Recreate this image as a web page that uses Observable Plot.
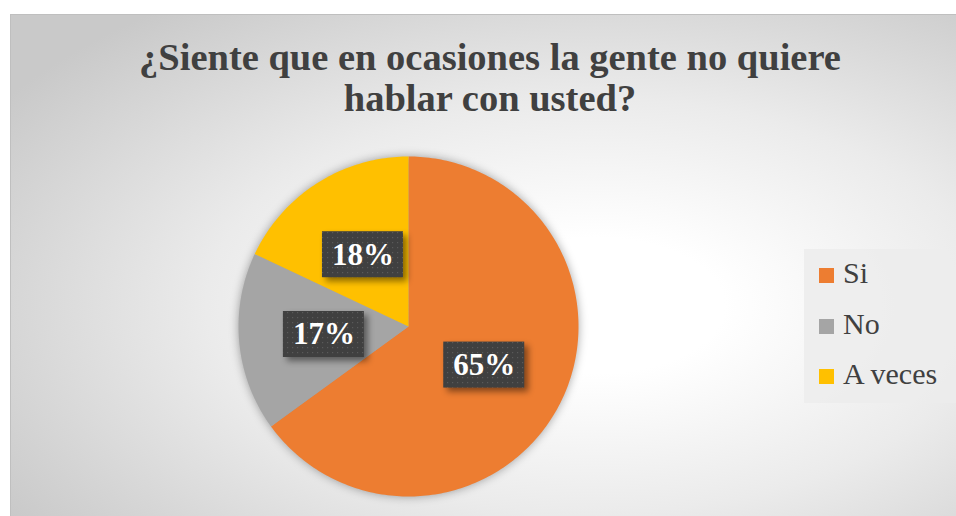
<!DOCTYPE html>
<html>
<head>
<meta charset="utf-8">
<script src="https://cdn.jsdelivr.net/npm/d3@7"></script>
<script src="https://cdn.jsdelivr.net/npm/@observablehq/plot@0.6"></script>
<style>
  body { margin:0; width:956px; height:516px; overflow:hidden; background:#fff; position:relative; font-family:"Liberation Serif","Times New Roman",serif; }
  #chart { position:absolute; left:10px; top:14px; width:946px; height:502px; box-sizing:border-box;
    border-left:1px solid #bfbfbf; border-top:1px solid #bfbfbf;
    background: radial-gradient(ellipse 75% 75% at 62% 58%, #ffffff 0%, #ffffff 18%, #ebebeb 55%, #c9c9c9 100%); }
  #title { position:absolute; left:0; top:37px; width:980px; text-align:center; font-weight:bold; font-size:38.5px; line-height:41px; color:#404040; }
  #plot { position:absolute; left:0; top:130px; }
  #legend { position:absolute; left:804px; top:249px; width:152px; height:154px; background:rgba(236,236,236,0.85); }
  .item { position:absolute; left:15px; height:20px; }
  .sw { position:absolute; left:0; top:0; width:15px; height:15px; }
  .lab { position:absolute; left:24px; top:-12px; font-size:30px; line-height:34px; color:#404040; white-space:nowrap; }
</style>
</head>
<body>
<div id="chart"></div>
<div id="title">¿Siente que en ocasiones la gente no quiere<br>hablar con usted?</div>
<div id="plot"></div>
<div id="legend"></div>
<script>
const categories = ["Si", "No", "A veces"];
const values = [65, 17, 18];
const labels = ["65%", "17%", "18%"];
const colors = ["#ED7D31", "#A5A5A5", "#FFC000"];

const data = categories.map((name, i) => ({name, value: values[i], label: labels[i]}));
const arcs = d3.pie().sort(null).value(d => d.value)(data);

// wedge outlines in unit coordinates (angle 0 at top, clockwise)
const wedgePts = [];
arcs.forEach(a => {
  wedgePts.push({name: a.data.name, x: 0, y: 0});
  const n = Math.max(2, Math.ceil((a.endAngle - a.startAngle) / (Math.PI / 180)));
  for (let k = 0; k <= n; k++) {
    const t = a.startAngle + (a.endAngle - a.startAngle) * k / n;
    wedgePts.push({name: a.data.name, x: Math.sin(t), y: Math.cos(t)});
  }
});
const labelPts = arcs.map(a => {
  const m = (a.startAngle + a.endAngle) / 2;
  return {name: a.data.name, label: a.data.label, x: 0.5 * Math.sin(m), y: 0.5 * Math.cos(m)};
});

const W = 816, H = 386, R = 170, CX = 408, CY = 196;

const plot = Plot.plot({
  width: W, height: H,
  marginLeft: CX - R, marginRight: W - CX - R,
  marginTop: CY - R, marginBottom: H - CY - R,
  x: {domain: [-1, 1], axis: null},
  y: {domain: [-1, 1], axis: null},
  color: {domain: categories, range: colors},
  style: {background: "transparent", overflow: "visible"},
  marks: [
    Plot.line(wedgePts, {x: "x", y: "y", z: "name", fill: "name", stroke: "none", curve: "linear-closed",
      render(index, scales, vals, dims, ctx, next) {
        const g = next(index, scales, vals, dims, ctx);
        g.style.filter = "drop-shadow(0px 0px 5px rgba(0,0,0,0.35))";
        return g;
      }}),
    Plot.text(labelPts, {x: "x", y: "y", text: "label", fill: "white", fontSize: 31, fontWeight: "bold",
      fontFamily: "Liberation Serif", 
      render(index, scales, vals, dims, ctx, next) {
        const g = next(index, scales, vals, dims, ctx);
        const ns = "http://www.w3.org/2000/svg";
        const wrap = document.createElementNS(ns, "g");
        const defs = document.createElementNS(ns, "defs");
        defs.innerHTML = `<pattern id="dots" width="5" height="5" patternUnits="userSpaceOnUse">
            <rect width="5" height="5" fill="#404040"/><rect x="2" y="2" width="1.2" height="1.2" fill="#5a5a5a"/></pattern>`;
        wrap.appendChild(defs);
        for (const i of index) {
          const r = document.createElementNS(ns, "rect");
          r.setAttribute("x", vals.x[i] - 40.5);
          r.setAttribute("y", vals.y[i] - 23);
          r.setAttribute("width", 81);
          r.setAttribute("height", 46);
          r.setAttribute("fill", "url(#dots)");
          r.style.filter = "drop-shadow(4px 4px 3px rgba(0,0,0,0.45))";
          wrap.appendChild(r);
        }
        wrap.appendChild(g);
        return wrap;
      }})
  ]
});
document.getElementById("plot").appendChild(plot);

const legend = document.getElementById("legend");
categories.forEach((c, i) => {
  const it = document.createElement("div");
  it.className = "item";
  it.style.top = (19 + i * 50.5) + "px";
  it.innerHTML = `<div class="sw" style="background:${colors[i]}"></div><div class="lab">${c}</div>`;
  legend.appendChild(it);
});
</script>
</body>
</html>
